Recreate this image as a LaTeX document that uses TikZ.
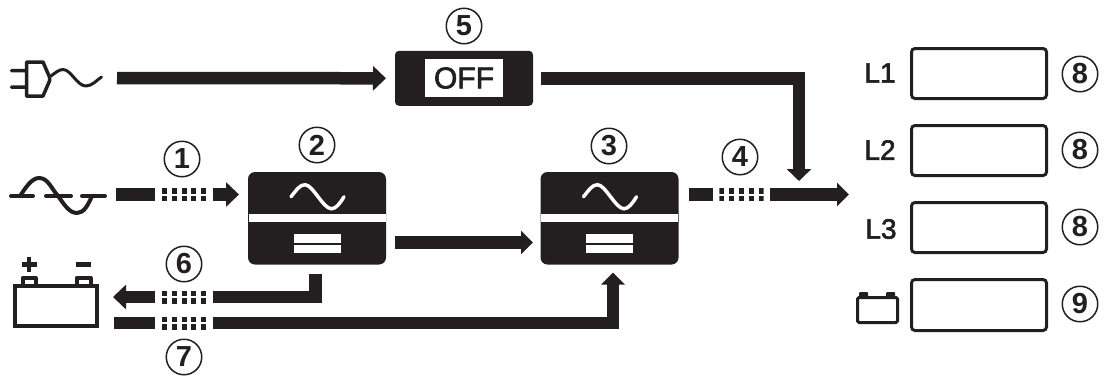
\documentclass[tikz,border=0pt]{standalone}
\usepackage{fontspec}
\setmainfont{Liberation Sans}
\newfontfamily\medfont{Liberation Sans}[FakeBold=2.2]
\usetikzlibrary{arrows.meta,calc}
\definecolor{ink}{HTML}{231F20}
\tikzset{
  fat/.style={draw=ink,line width=12.5pt,line join=miter},
  fatarrow/.style={fat,-{Triangle[length=13pt,width=24pt]}},
  dotsnode/.style={minimum width=44.4pt,minimum height=13pt,inner sep=0pt,outer sep=6.5pt,
    path picture={
      \draw[ink,line width=5.5pt,dash pattern=on 5pt off 4.85pt]
        ([yshift=3.75pt]path picture bounding box.west) -- ([yshift=3.75pt]path picture bounding box.east);
      \draw[ink,line width=5.5pt,dash pattern=on 5pt off 4.85pt]
        ([yshift=-3.75pt]path picture bounding box.west) -- ([yshift=-3.75pt]path picture bounding box.east);
    }},
  numcircle/.style={circle,draw=ink,line width=1.5pt,minimum size=35.5pt,inner sep=0pt,text=ink,
    font=\fontsize{29}{29}\selectfont\bfseries},
  dispbox/.style={draw=ink,line width=3pt,rounded corners=3.5pt,minimum width=135pt,minimum height=50pt,inner sep=0pt},
  convbox/.style={fill=ink,rounded corners=7pt,minimum width=138pt,minimum height=92.5pt,inner sep=0pt,outer sep=0pt},
  offbox/.style={fill=ink,rounded corners=4pt,minimum width=138pt,minimum height=55pt,inner sep=0pt,outer sep=0pt},
  offtag/.style={fill=white,minimum width=78pt,minimum height=38pt,inner sep=0pt,text=ink,
    font=\medfont\fontsize{30}{30}\selectfont},
  lab/.style={text=ink,inner sep=0pt,font=\medfont\fontsize{28}{28}\selectfont},
  anchorbox/.style={inner sep=0pt,outer sep=0pt},
  glyph/.style={draw=ink,line width=3.5pt,line cap=round,line join=round},
}
\newcommand{\convunit}[2]{%
  \node[convbox] (#1) at (#2,218.25) {};
  \begin{scope}[shift={(#2,218.25)}]
    \fill[white] (-68.5,-4) rectangle (68.5,4);
    \fill[white] (-23.5,16) rectangle (23.5,24.5);
    \fill[white] (-23.5,27) rectangle (23.5,35);
    \draw[white,line width=3.5pt,line cap=round]
      (-26,-21.5) .. controls (-20,-29) and (-17,-33.5) .. (-12,-33.5)
      .. controls (-4,-33.5) and (6,-9.5) .. (14.5,-9.5)
      .. controls (19,-9.5) and (23,-15) .. (27,-21.5);
  \end{scope}}
\begin{document}
\begin{tikzpicture}[x=1pt,y=-1pt]
\useasboundingbox (0,0) rectangle (1104,376);

% source symbols
\node[anchorbox,minimum width=91pt,minimum height=34pt] (plug) at (56.5,78) {};
\draw[glyph,line width=3.5pt] (11.5,70.5) -- (26,70.5) (11.5,87) -- (26,87)
  (26.5,62) -- (43,62) -- (49.5,77) -- (49.5,81) -- (43,96) -- (26.5,96) -- cycle;
\draw[glyph,line width=3pt] (51,76) .. controls (55,73) and (59,69.5) .. (63,69.5)
  .. controls (71,69.5) and (77,86) .. (86,86) .. controls (92,86) and (97,80) .. (101.5,77);

\node[anchorbox,minimum width=94pt,minimum height=35pt] (acsrc) at (58,195.5) {};
\draw[glyph,line width=4pt] (11,196) -- (33,196) (46,196) -- (71,196) (82,196) -- (105,196);
\draw[glyph,line width=4pt] (20,196) .. controls (26,187) and (32,178) .. (39,178)
  .. controls (48,178) and (51,188) .. (58,196)
  .. controls (64,204) and (69,213) .. (77,213)
  .. controls (84,213) and (88,205) .. (92,196);

\node[draw=ink,line width=4pt,minimum width=82pt,minimum height=40pt,inner sep=0pt,outer sep=0pt] (bat) at (56,306) {};
\draw[ink,line width=4pt,line join=round] (22.5,286) -- (22.5,278) -- (35.5,278) -- (35.5,286);
\draw[ink,line width=4pt,line join=round] (76.5,286) -- (76.5,278) -- (90.5,278) -- (90.5,286);
\draw[ink,line width=4.5pt] (21.5,264.5) -- (36.5,264.5) (29,257) -- (29,272) (75.5,264.5) -- (90.5,264.5);

% units
\convunit{box2}{317}
\convunit{box3}{609.5}
\node[offbox] (box5) at (464,78.3) {};
\node[offtag] (offlabel) at (464,78) {OFF};

% dotted stretches
\node[dotsnode] (d1) at (184,194.5) {};
\node[dotsnode] (d6) at (184,297) {};
\node[dotsnode] (d7) at (184,323) {};
\node[dotsnode] (d4) at (741.5,194.5) {};
\coordinate (out4) at (849,194.5);
\coordinate (join5) at (799,181);

% connectors
\draw[fatarrow,shorten <=15pt,shorten >=9pt] (plug.east) -- (box5.west);
\draw[fatarrow,-{Triangle[length=12pt,width=24pt]},shorten <=8pt] (box5.east) -| (join5);
\draw[fat,shorten <=11pt] (acsrc.east |- d1.west) -- (d1.west);
\draw[fatarrow,shorten >=9pt] (d1.east) -- (d1.east -| box2.west);
\draw[fat,shorten <=10pt] (box3.east |- d4.west) -- (d4.west);
\draw[fatarrow,-{Triangle[length=12pt,width=23pt]}] (d4.east) -- (out4);
\draw[fatarrow,-{Triangle[length=12pt,width=23pt]},shorten <=9pt,shorten >=7.5pt] ([yshift=-24.25pt]box2.east) -- ([yshift=-24.25pt]box3.west);
\draw[fat,shorten <=9pt] ([xshift=-1.5pt]box2.south) |- (d6.east);
\draw[fatarrow,shorten >=16pt] (d6.west) -- (d6.west -| bat.east);
\draw[fat,shorten <=17pt] (d7.west -| bat.east) -- (d7.west);
\draw[fatarrow,-{Triangle[length=12pt,width=23pt]},shorten >=8pt] (d7.east) -| ([xshift=3.5pt]box3.south);

% callouts
\node[numcircle] (n1) at (182,159) {1};
\node[numcircle] (n2) at (317,145) {2};
\node[numcircle] (n3) at (609,146) {3};
\node[numcircle] (n4) at (740,157) {4};
\node[numcircle] (n5) at (464,26) {5};
\node[numcircle] (n6) at (184,264) {6};
\node[numcircle] (n7) at (184,357) {7};

% output displays
\node[dispbox] (o1) at (979,73.5) {};
\node[dispbox] (o2) at (979,150.5) {};
\node[dispbox] (o3) at (979,227.5) {};
\node[dispbox,minimum height=51pt] (o4) at (979,305) {};
\node[lab] (l1) at (880,73) {L1};
\node[lab] (l2) at (880,150) {L2};
\node[lab] (l3) at (881,229) {L3};
\node[numcircle] (n8a) at (1080,74) {8};
\node[numcircle] (n8b) at (1080,150) {8};
\node[numcircle] (n8c) at (1080,227) {8};
\node[numcircle] (n9) at (1080,304) {9};
\node[draw=ink,line width=3pt,rounded corners=1.5pt,minimum width=40pt,minimum height=25pt,inner sep=0pt] (sbat) at (877.5,310) {};
\fill[ink,rounded corners=1pt] (859,292) rectangle (868,298);
\fill[ink,rounded corners=1pt] (886,292) rectangle (895,298);
\end{tikzpicture}
\end{document}
